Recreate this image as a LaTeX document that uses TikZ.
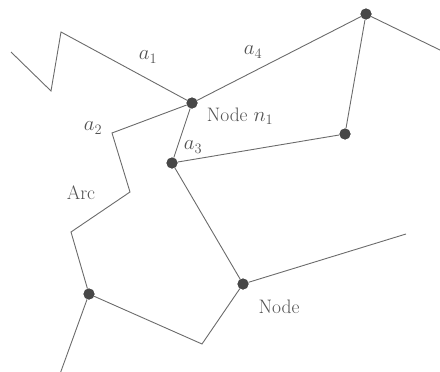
\documentclass[tikz,border=0pt]{standalone}
\begin{document}
\begin{tikzpicture}[x=1pt,y=-1pt,
  edge/.style={draw=black!58,line width=0.9pt,line join=miter},
  vertex/.style={circle,fill=black!72,inner sep=0pt,minimum size=11pt},
  lbl/.style={text=black!68,font=\fontsize{19.5}{22}\selectfont,inner sep=0pt}]
\useasboundingbox (0,0) rectangle (440,372);
% vertices
\node[vertex] (n1) at (192,103) {};
\node[vertex] (top) at (366,14) {};
\node[vertex] (mid) at (345,134) {};
\node[vertex] (c) at (172,163) {};
\node[vertex] (low) at (243,284) {};
\node[vertex] (left) at (89,294) {};
% free ends and bends
\coordinate (s0) at (11,52);
\coordinate (s1) at (51,91);
\coordinate (s2) at (61,32);
\coordinate (b1) at (112,133);
\coordinate (b2) at (130,192);
\coordinate (b3) at (71,232);
\coordinate (b4) at (202,344);
\coordinate (e1) at (442,51);
\coordinate (e2) at (406,234);
\coordinate (e3) at (60,374);
% arcs
\draw[edge] (s0) -- (s1) -- (s2) -- (n1);
\draw[edge] (n1) -- (top) -- (e1);
\draw[edge] (top) -- (mid) -- (c) -- (n1);
\draw[edge] (n1) -- (b1) -- (b2) -- (b3) -- (left);
\draw[edge] (c) -- (low) -- (e2);
\draw[edge] (low) -- (b4) -- (left) -- (e3);
% redraw dots on top
\foreach \v in {n1,top,mid,c,low,left} \node[vertex] at (\v) {};
% labels
\node[lbl] (la1) at (148,57) {$a_1$};
\node[lbl] (la4) at (253,52) {$a_4$};
\node[lbl] (la2) at (93,128) {$a_2$};
\node[lbl] (la3) at (193,147) {$a_3$};
\node[lbl] (ln1) at (240,116) {Node $n_1$};
\node[lbl] (larc) at (81,193) {Arc};
\node[lbl] (lnode) at (279,307) {Node};
\end{tikzpicture}
\end{document}
